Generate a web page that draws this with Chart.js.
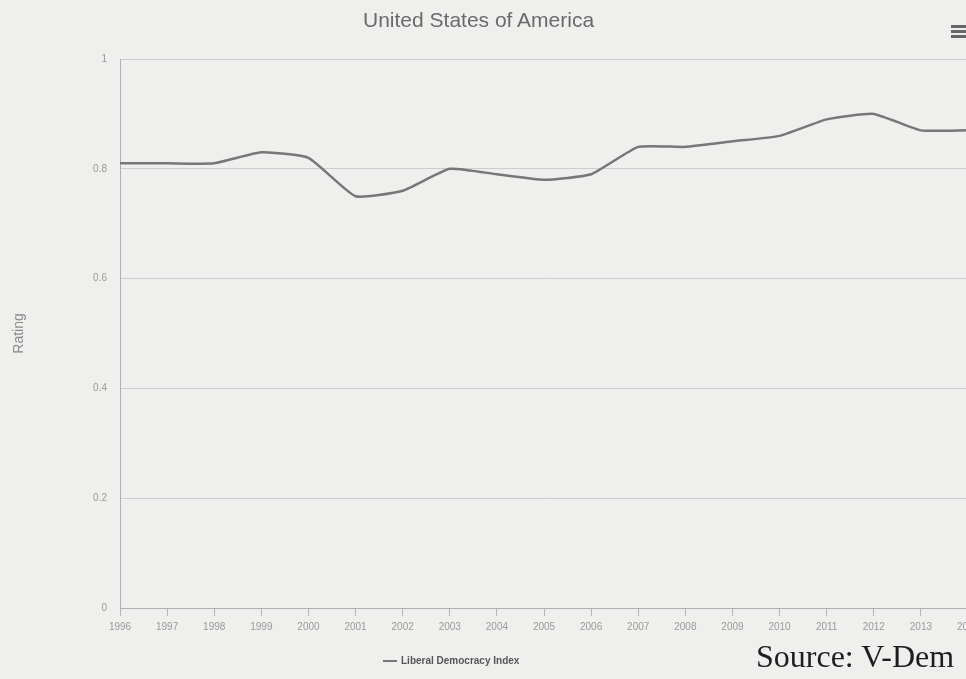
<!DOCTYPE html>
<html>
<head>
<meta charset="utf-8">
<script src="https://cdn.jsdelivr.net/npm/chart.js@4.4.1/dist/chart.umd.min.js"></script>
<style>
  html, body { margin: 0; padding: 0; width: 966px; height: 679px; overflow: hidden; background: #efefed; }
  #wrap { position: absolute; left: 0; top: 0; width: 1000px; height: 679px; }
  #title { position: absolute; left: 363px; top: 8px; font: 21px "Liberation Sans", Arial, sans-serif; color: #6a6a6a; }
  #menu { position: absolute; left: 951px; top: 25px; width: 15px; }
  #menu div { height: 3px; background: #666; margin-bottom: 2px; }
  #legend { position: absolute; left: 383px; top: 655px; font: bold 10px "Liberation Sans", Arial, sans-serif; color: #555; }
  #legend span.ln { display: inline-block; width: 14px; height: 2px; background: #777; vertical-align: middle; margin-right: 4px; }
  #source { position: absolute; left: 756px; top: 638px; font: 32px "Liberation Serif", "Times New Roman", serif; color: #1e1e1e; }
</style>
</head>
<body>
<div id="wrap"><canvas id="myChart"></canvas></div>
<div id="title">United States of America</div>
<div id="menu"><div></div><div></div><div></div></div>
<div id="legend"><span class="ln"></span>Liberal Democracy Index</div>
<div id="source">Source: V-Dem</div>
<script>
// Années et valeurs
const years = ['1996', '1997', '1998', '1999', '2000', '2001', '2002', '2003', '2004', '2005',
               '2006', '2007', '2008', '2009', '2010', '2011', '2012', '2013', '2014'];
const liberalDemocracy = [0.81, 0.81, 0.81, 0.83, 0.82, 0.75, 0.76, 0.80, 0.79, 0.78,
                          0.79, 0.84, 0.84, 0.85, 0.86, 0.89, 0.90, 0.87, 0.87];
const seriesLabel = 'Liberal Democracy Index';
const yTicks = [0, 0.2, 0.4, 0.6, 0.8, 1];

const ctx = document.getElementById('myChart').getContext('2d');
const chart = new Chart(ctx, {
    type: 'line',
    data: {
        labels: years,
        datasets: [{
            label: seriesLabel,
            data: liberalDemocracy,
            borderColor: '#777777',
            borderWidth: 2.5,
            pointRadius: 0,
            tension: 0.15,
            fill: false
        }]
    },
    options: {
        responsive: true,
        maintainAspectRatio: false,
        animation: false,
        layout: { padding: { left: 7, right: 32, top: 59, bottom: 31 } },
        plugins: {
            legend: { display: false },
            tooltip: { enabled: false }
        },
        scales: {
            x: {
                offset: false,
                afterFit: function(scale) { scale.height = 40; },
                grid: { drawOnChartArea: false, drawTicks: true, tickLength: 8, color: '#b5b5b5' },
                border: { color: '#b0b0b0', width: 1 },
                ticks: {
                    autoSkip: false,
                    maxRotation: 0,
                    padding: 5,
                    color: '#9a9a9a',
                    font: { family: 'Liberation Sans', size: 10 }
                }
            },
            y: {
                min: 0,
                max: 1,
                afterFit: function(scale) { scale.width = 113; },
                afterBuildTicks: function(scale) {
                    scale.ticks = yTicks.map(function(v) { return { value: v }; });
                },
                grid: { color: '#cdcdcd', drawTicks: false },
                border: { display: true, color: '#b0b0b0', width: 1 },
                ticks: {
                    padding: 13,
                    color: '#9a9a9a',
                    font: { family: 'Liberation Sans', size: 10 },
                    callback: function(v) { return String(v); }
                },
                title: {
                    display: true,
                    text: 'Rating',
                    color: '#8a8a8a',
                    font: { family: 'Liberation Sans', size: 14 }
                }
            }
        }
    }
});
</script>
</body>
</html>
